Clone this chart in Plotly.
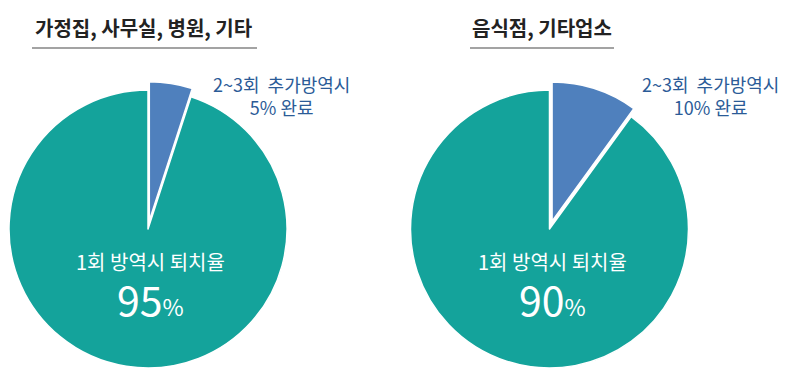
import plotly.graph_objects as go

W, H = 788, 384

# Data
titles = ["가정집, 사무실, 병원, 기타", "음식점, 기타업소"]
slice_labels = ["2~3회 추가방역시", "1회 방역시 퇴치율"]
values_left = [5, 95]
values_right = [10, 90]
colors = ["#4f80bd", "#14a39b"]

FONT = "Noto Sans CJK KR"

def px_x(x):
    return x / W

def px_y(y):
    return 1 - y / H

fig = go.Figure()

pull = 0.06
r = 139
centers = [(148, 229), (549.5, 229)]
for vals, (cx, cy) in zip([values_left, values_right], centers):
    half = r * (1 + pull)
    fig.add_trace(go.Pie(
        values=vals,
        labels=slice_labels,
        sort=False,
        direction="clockwise",
        rotation=0,
        pull=[pull, 0],
        marker=dict(colors=colors, line=dict(color="white", width=1.5)),
        textinfo="none",
        hoverinfo="skip",
        showlegend=False,
        domain=dict(x=[px_x(cx - half), px_x(cx + half)],
                    y=[px_y(cy + half), px_y(cy - half)]),
    ))

annotations = []
shapes = []

# Titles with underline
title_pos = [(143, 32, 257), (541.5, 470, 614)]
for t, (tx, x0, x1) in zip(titles, title_pos):
    annotations.append(dict(text=f"<b>{t}</b>", x=px_x(tx), y=px_y(27),
                            xref="paper", yref="paper", showarrow=False,
                            xanchor="center", yanchor="middle",
                            font=dict(family=FONT, size=20, color="#222222")))
    shapes.append(dict(type="line", xref="paper", yref="paper",
                       x0=px_x(x0), x1=px_x(x1), y0=px_y(48), y1=px_y(48),
                       line=dict(color="#a3a3a3", width=2)))

# Outside labels (blue)
blue_pos = [281, 710]
for v, bx in zip([values_left[0], values_right[0]], blue_pos):
    txt = slice_labels[0].replace("회 ", "회&nbsp; ") + f"<br>{v}% 완료"
    annotations.append(dict(text=txt, x=px_x(bx), y=px_y(95.5),
                            xref="paper", yref="paper", showarrow=False,
                            xanchor="center", yanchor="middle", align="center",
                            font=dict(family=FONT, size=18, color="#2b5b97")))

# Inside labels (white)
in_pos = [150, 552]
for v, ix in zip([values_left[1], values_right[1]], in_pos):
    annotations.append(dict(text=slice_labels[1], x=px_x(ix), y=px_y(261),
                            xref="paper", yref="paper", showarrow=False,
                            xanchor="center", yanchor="middle", borderpad=0,
                            font=dict(family=FONT, size=20, color="white")))
    annotations.append(dict(text=f"{v}<span style='font-size:23px'>%</span>",
                            x=px_x(ix), y=px_y(298),
                            xref="paper", yref="paper", showarrow=False,
                            xanchor="center", yanchor="middle", borderpad=0,
                            font=dict(family=FONT, size=41, color="white")))

fig.update_layout(
    width=W, height=H,
    margin=dict(l=0, r=0, t=0, b=0),
    paper_bgcolor="white",
    plot_bgcolor="white",
    annotations=annotations,
    shapes=shapes,
    showlegend=False,
)

fig.write_html("out.html",
               config={"displayModeBar": False},
               post_script="document.body.style.margin='0';document.body.style.overflow='hidden';")
